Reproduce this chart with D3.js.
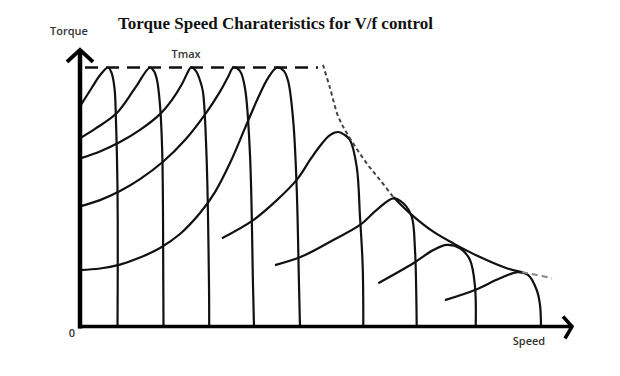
<!DOCTYPE html>
<html>
<head>
<meta charset="utf-8">
<script src="https://cdn.jsdelivr.net/npm/d3@7"></script>
<style>
  body { margin: 0; background: #fff; }
</style>
</head>
<body>
<div id="chart"></div>
<script>
// speed (rpm), torque (% of Tmax)
const curve1 = [[0, 85], [23, 92], [40, 97], [56, 100], [63, 98], [69, 92], [72, 79], [75, 53], [75.5, 25], [75, 0]];
const curve2 = [[0, 72.7], [30, 76.3], [73, 82.3], [110, 92], [140, 100], [148, 98.6], [154, 95.2], [160, 85.5], [164.6, 66.2], [166.6, 16], [167, 0]];
const curve3 = [[0, 64.9], [40, 67.6], [80, 71.2], [120, 75.9], [160, 82], [184, 87.5], [204, 93.6], [214, 97.6], [222, 100], [232, 98.6], [241, 94.4], [246, 90.5], [253, 66.2], [258, 16], [258.4, 0]];
const curve4 = [[0, 46.4], [40, 48.8], [80, 52.3], [120, 56.9], [166, 63.6], [210, 72], [252, 82.4], [280, 90.7], [296, 96.3], [307, 100], [320, 98.6], [330, 92], [340, 66.2], [346, 16], [348, 0]];
const curve5 = [[0, 21.8], [40, 22.4], [80, 23.9], [120, 26.6], [160, 30.3], [200, 35.7], [240, 43.8], [270, 51.9], [300, 63.1], [330, 76.6], [356, 88.2], [376, 95.9], [394, 100], [408, 98.6], [416.6, 94.5], [426.6, 79.1], [433.4, 53.5], [438, 16], [440, 0]];
const curve6 = [[284, 34.1], [346.6, 41.1], [390, 48.1], [433.4, 56.6], [460, 64.3], [480, 69.7], [500, 73.9], [516, 75.1], [530, 73.9], [540, 72], [553.4, 61.7], [560, 42.4], [565.4, 23.1], [566.6, 0]];
const curve7 = [[390, 23.7], [442, 26.9], [506.6, 33.4], [560, 39.2], [593.4, 45], [626.6, 49.5], [646.6, 47.6], [663.4, 42.4], [670, 29.5], [672.4, 14.1], [673.4, 0]];
const curve8 = [[596.6, 16.7], [666.6, 24.4], [706.6, 29.5], [733.4, 31.5], [760, 30.2], [780, 25.7], [790, 15.4], [791.4, 0]];
const curve9 = [[730, 10.2], [790, 14.1], [840, 18.6], [876, 21], [896, 19.9], [913.4, 14.1], [920, 8.3], [922, 0]];
const curves = [curve1, curve2, curve3, curve4, curve5, curve6, curve7, curve8, curve9];

// constant power boundary
const envelopeDashed = [[486, 101], [500, 92.1], [516.6, 81], [536, 73.9], [573.4, 63], [600, 56.6], [626.6, 50]];
const envelopeSolid = [[626.6, 50], [660, 43.7], [706.6, 36.6], [746.6, 32.1], [800, 26.8], [853.4, 22.5], [884, 21]];
const envelopeTail = [[884, 21], [914, 19.9], [944, 18.6]];

// Tmax line
const tmaxLine = [[10, 100], [476, 100]];

const width = 620;
const height = 376;

const svg = d3
  .select("#chart")
  .append("svg")
  .attr("width", width)
  .attr("height", height)
  .style("background", "#fff");

const x = d3.scaleLinear().domain([0, 1000]).range([80, 580]);
const y = d3.scaleLinear().domain([0, 100]).range([326.5, 67.5]);

const line = d3
  .line()
  .x((d) => x(d[0]))
  .y((d) => y(d[1]))
  .curve(d3.curveCatmullRom.alpha(0.5));

// === Title ===
svg
  .append("text")
  .attr("x", 118)
  .attr("y", 29)
  .style("font-family", "'Liberation Serif', 'Times New Roman', serif")
  .style("font-weight", "bold")
  .style("font-size", "17px")
  .style("fill", "#111")
  .text("Torque Speed Charateristics for V/f control");

// === Tmax ===
svg
  .append("path")
  .attr("d", d3.line().x((d) => x(d[0])).y((d) => y(d[1]))(tmaxLine))
  .attr("fill", "none")
  .attr("stroke", "#111")
  .attr("stroke-width", 2.5)
  .attr("stroke-dasharray", "13,8");

svg
  .append("text")
  .attr("x", 186)
  .attr("y", 58)
  .attr("text-anchor", "middle")
  .style("font-family", "'Open Sans', sans-serif")
  .style("font-weight", "600")
  .style("font-size", "11px")
  .style("fill", "#333")
  .text("Tmax");

// === Curves ===
svg
  .append("g")
  .selectAll("path")
  .data(curves)
  .enter()
  .append("path")
  .attr("d", line)
  .attr("fill", "none")
  .attr("stroke", "#111")
  .attr("stroke-width", 2.2);

// === Envelope ===
svg
  .append("path")
  .attr("d", line(envelopeDashed))
  .attr("fill", "none")
  .attr("stroke", "#444")
  .attr("stroke-width", 2)
  .attr("stroke-dasharray", "4,3");

svg
  .append("path")
  .attr("d", line(envelopeSolid))
  .attr("fill", "none")
  .attr("stroke", "#111")
  .attr("stroke-width", 2.2);

svg
  .append("path")
  .attr("d", line(envelopeTail))
  .attr("fill", "none")
  .attr("stroke", "#888")
  .attr("stroke-width", 2)
  .attr("stroke-dasharray", "6,4");

// === Axes ===
const xMax = 984;
const yMax = 106.8;

svg
  .append("line")
  .attr("x1", x(0))
  .attr("x2", x(0))
  .attr("y1", y(0) + 2)
  .attr("y2", y(yMax))
  .attr("stroke", "#000")
  .attr("stroke-width", 4.5);

svg
  .append("line")
  .attr("x1", x(0) - 2)
  .attr("x2", x(xMax))
  .attr("y1", y(0))
  .attr("y2", y(0))
  .attr("stroke", "#000")
  .attr("stroke-width", 3.5);

svg
  .append("path")
  .attr("d", `M${x(0) - 13},${y(yMax) + 12} L${x(0)},${y(yMax)} L${x(0) + 13},${y(yMax) + 12}`)
  .attr("fill", "none")
  .attr("stroke", "#000")
  .attr("stroke-width", 4);

svg
  .append("path")
  .attr("d", `M${x(xMax) - 9},${y(0) - 10} L${x(xMax)},${y(0)} L${x(xMax) - 7},${y(0) + 12}`)
  .attr("fill", "none")
  .attr("stroke", "#000")
  .attr("stroke-width", 3.5);

// === Axis labels ===
const labelStyle = (sel) =>
  sel
    .style("font-family", "'Open Sans', sans-serif")
    .style("font-weight", "600")
    .style("font-size", "11px")
    .style("fill", "#333");

svg.append("text").attr("x", 69).attr("y", 35).attr("text-anchor", "middle").call(labelStyle).text("Torque");
svg.append("text").attr("x", 72).attr("y", 337).attr("text-anchor", "middle").call(labelStyle).text("0");
svg.append("text").attr("x", 529).attr("y", 345).attr("text-anchor", "middle").call(labelStyle).text("Speed");
</script>
</body>
</html>
